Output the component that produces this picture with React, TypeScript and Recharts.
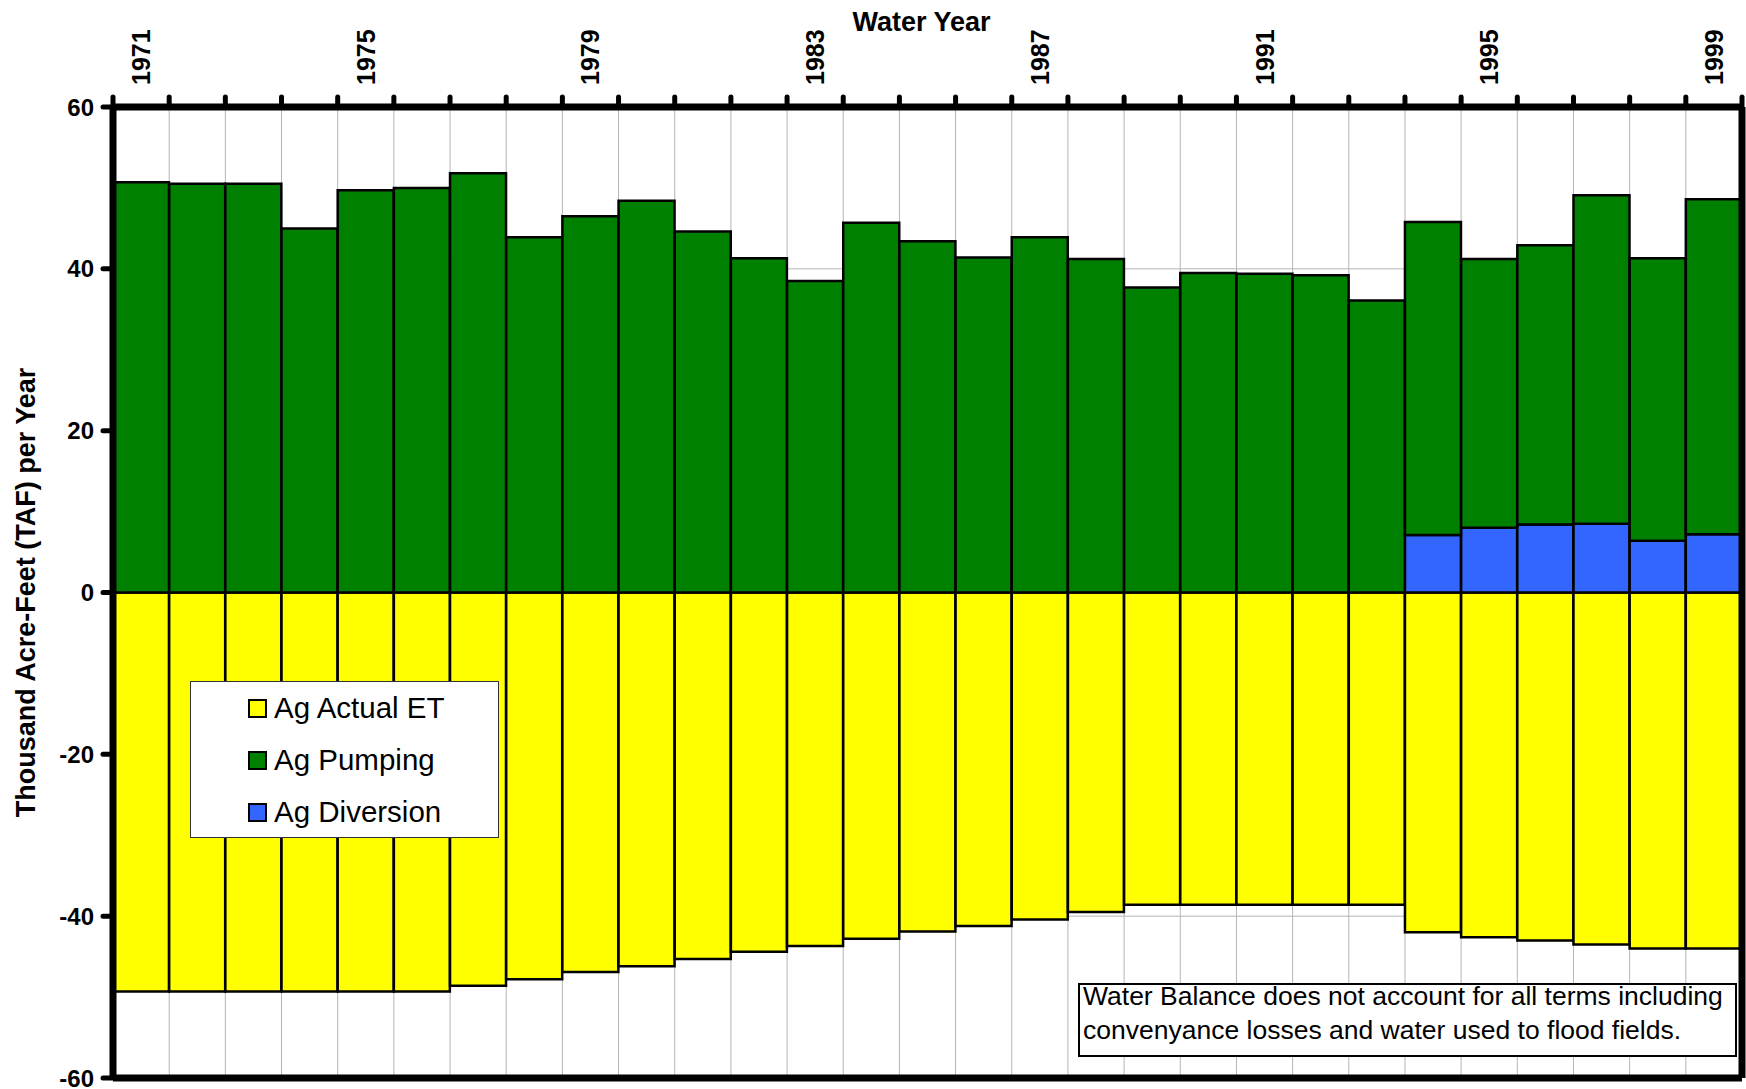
import { BarChart, Bar, XAxis, YAxis, CartesianGrid, Legend } from "recharts";

// water years (category axis)
const years = [
  "1971", "1972", "1973", "1974", "1975", "1976", "1977", "1978", "1979", "1980",
  "1981", "1982", "1983", "1984", "1985", "1986", "1987", "1988", "1989", "1990",
  "1991", "1992", "1993", "1994", "1995", "1996", "1997", "1998", "1999",
];
const labeledYears = ["1971", "1975", "1979", "1983", "1987", "1991", "1995", "1999"];

// TAF per year
const agActualEt = [
  -49.3, -49.3, -49.3, -49.3, -49.3, -49.3, -48.6, -47.8, -46.9, -46.2,
  -45.3, -44.4, -43.7, -42.8, -41.9, -41.2, -40.4, -39.5, -38.6, -38.6,
  -38.6, -38.6, -38.6, -42.0, -42.6, -43.0, -43.5, -44.0, -44.0,
];
const agPumping = [
  50.7, 50.5, 50.5, 45.0, 49.7, 50.0, 51.8, 43.9, 46.5, 48.4,
  44.6, 41.3, 38.5, 45.7, 43.4, 41.4, 43.9, 41.2, 37.7, 39.5,
  39.4, 39.2, 36.1, 38.7, 33.2, 34.5, 40.6, 34.9, 41.4,
];
const agDiversion = [
  0, 0, 0, 0, 0, 0, 0, 0, 0, 0,
  0, 0, 0, 0, 0, 0, 0, 0, 0, 0,
  0, 0, 0, 7.1, 8.0, 8.4, 8.5, 6.4, 7.2,
];

const yTicks = [-60, -40, -20, 0, 20, 40, 60];
const legendOrder = ["Ag Actual ET", "Ag Pumping", "Ag Diversion"];
const noteLines = [
  "Water Balance does not account for all terms including",
  "convenyance losses and water used to flood fields.",
];

const data = years.map((year, i) => ({
  year,
  et: agActualEt[i],
  pumping: agPumping[i],
  diversion: agDiversion[i],
}));

const W = 1746;
const H = 1089;
const MARGIN = { top: 0, right: 3, bottom: 10, left: 0 };
const Y_AXIS_W = 113;
const R_AXIS_W = 1;
const PLOT_W = W - MARGIN.left - MARGIN.right - Y_AXIS_W - R_AXIS_W;

const FONT = "Arial, 'Liberation Sans', sans-serif";
const AXIS = { stroke: "#000", strokeWidth: 7 };

// label every 4th year, tick mark at each category boundary
function YearTick(props: any) {
  const { x, y, payload, index, visibleTicksCount } = props;
  const n = visibleTicksCount || years.length;
  const band = (typeof props.width === "number" && props.width > 0 ? props.width : PLOT_W) / n;
  const edges = [x - band / 2];
  if (index === n - 1) edges.push(x + band / 2);
  const bx = x + 9;
  const by = y - 22;
  return (
    <g>
      {edges.map((ex) => (
        <line
          key={ex}
          x1={ex}
          x2={ex}
          y1={y}
          y2={y - 10}
          stroke="#000"
          strokeWidth={5}
          strokeLinecap="round"
        />
      ))}
      {labeledYears.includes(payload.value) && (
        <text
          x={bx}
          y={by}
          transform={`rotate(-90 ${bx} ${by})`}
          textAnchor="start"
          fontSize={25}
          fontWeight="bold"
          fontFamily={FONT}
          fill="#000"
        >
          {payload.value}
        </text>
      )}
    </g>
  );
}

function LegendBox(props: any) {
  const payload: any[] = props.payload || [];
  const items = legendOrder
    .map((name) => payload.find((p) => p.value === name))
    .filter(Boolean);
  return (
    <div
      style={{
        width: 309,
        height: 157,
        boxSizing: "border-box",
        border: "1px solid #333",
        background: "#fff",
        fontFamily: FONT,
      }}
    >
      {items.map((it: any) => (
        <div
          key={it.value}
          style={{ display: "flex", alignItems: "center", height: 52, marginLeft: 57 }}
        >
          <span
            style={{
              width: 15,
              height: 15,
              border: "2px solid #000",
              background: it.color,
              marginRight: 7,
            }}
          />
          <span style={{ fontSize: 29.5, color: "#000", lineHeight: 1 }}>{it.value}</span>
        </div>
      ))}
    </div>
  );
}

export default function App() {
  return (
    <div style={{ position: "absolute", left: 0, top: 0, width: W, height: H, background: "#fff", fontFamily: FONT }}>
      <BarChart
        width={W}
        height={H}
        data={data}
        stackOffset="sign"
        barCategoryGap={0}
        margin={MARGIN}
      >
        <CartesianGrid
          xAxisId="years"
          yAxisId={0}
          stroke="#b4b4b4"
          strokeWidth={1}
          verticalCoordinatesGenerator={({ offset }: any) =>
            Array.from({ length: years.length + 1 }, (_, i) => offset.left + (i * offset.width) / years.length)
          }
        />
        <XAxis
          xAxisId="years"
          dataKey="year"
          orientation="top"
          height={107}
          interval={0}
          axisLine={AXIS}
          tickLine={false}
          tickSize={0}
          tickMargin={0}
          tick={<YearTick />}
          label={{
            content: (p: any) => (
              <text
                x={p.viewBox.x + p.viewBox.width / 2 - 6}
                y={31}
                textAnchor="middle"
                fontSize={27}
                fontWeight="bold"
                fontFamily={FONT}
                fill="#000"
              >
                Water Year
              </text>
            ),
          }}
        />
        <XAxis
          xAxisId="bottom"
          type="number"
          orientation="bottom"
          domain={[0, years.length]}
          height={1}
          tick={false}
          tickLine={false}
          axisLine={AXIS}
          allowDataOverflow
        />
        <YAxis
          yAxisId={0}
          domain={[-60, 60]}
          ticks={yTicks}
          interval={0}
          width={Y_AXIS_W}
          tickSize={10}
          tickMargin={9}
          tickLine={{ stroke: "#000", strokeWidth: 5, strokeLinecap: "round" }}
          axisLine={AXIS}
          tick={{ fontSize: 24, fontWeight: "bold", fill: "#000", fontFamily: FONT }}
          allowDataOverflow
          label={{
            content: (p: any) => {
              const cy = p.viewBox.y + p.viewBox.height / 2;
              return (
                <text
                  x={35}
                  y={cy}
                  transform={`rotate(-90 35 ${cy})`}
                  textAnchor="middle"
                  fontSize={27}
                  fontWeight="bold"
                  fontFamily={FONT}
                  fill="#000"
                >
                  Thousand Acre-Feet (TAF) per Year
                </text>
              );
            },
          }}
        />
        <YAxis
          yAxisId="right"
          orientation="right"
          domain={[-60, 60]}
          width={R_AXIS_W}
          tick={false}
          tickLine={false}
          axisLine={AXIS}
        />
        <Legend
          layout="horizontal"
          verticalAlign="middle"
          align="center"
          content={<LegendBox />}
          wrapperStyle={{ left: 190, top: 681, width: 309, height: 157 }}
        />
        <Bar
          xAxisId="years"
          yAxisId={0}
          dataKey="et"
          name="Ag Actual ET"
          stackId="wb"
          fill="#ffff00"
          stroke="#000"
          strokeWidth={2.5}
          isAnimationActive={false}
        />
        <Bar
          xAxisId="years"
          yAxisId={0}
          dataKey="diversion"
          name="Ag Diversion"
          stackId="wb"
          fill="#3366ff"
          stroke="#000"
          strokeWidth={2.5}
          isAnimationActive={false}
        />
        <Bar
          xAxisId="years"
          yAxisId={0}
          dataKey="pumping"
          name="Ag Pumping"
          stackId="wb"
          fill="#008000"
          stroke="#000"
          strokeWidth={2.5}
          isAnimationActive={false}
        />
      </BarChart>
      <div
        style={{
          position: "absolute",
          left: 1078,
          top: 983,
          width: 659,
          height: 74,
          boxSizing: "border-box",
          border: "2px solid #000",
          background: "#fff",
          fontSize: 26.5,
          lineHeight: "34px",
          color: "#000",
          paddingLeft: 3,
          whiteSpace: "nowrap",
        }}
      >
        <div style={{ marginTop: -6 }}>
          {noteLines.map((line) => (
            <div key={line}>{line}</div>
          ))}
        </div>
      </div>
    </div>
  );
}
